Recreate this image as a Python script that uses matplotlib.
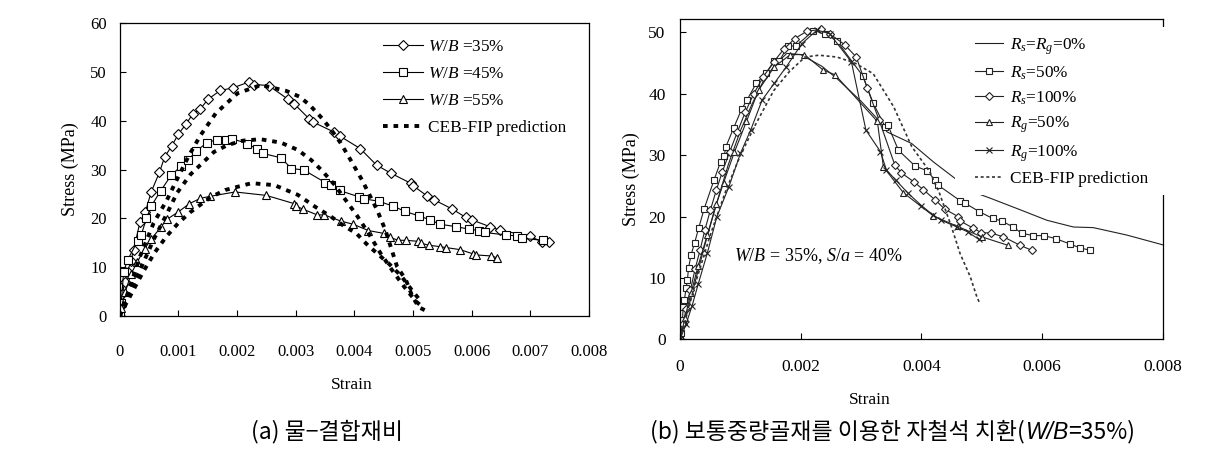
import numpy as np
import matplotlib
matplotlib.use('Agg')
import matplotlib.pyplot as plt
from matplotlib.patches import Rectangle

plt.rcParams['font.family'] = ['Liberation Serif', 'DejaVu Serif']
plt.rcParams['mathtext.fontset'] = 'custom'
plt.rcParams['mathtext.rm'] = 'Liberation Serif'
plt.rcParams['mathtext.it'] = 'Liberation Serif:italic'

# ---- (a) water-binder ratio : strain in 1e-3, stress in MPa ----
a35_x = [0, 0.02, 0.05, 0.09, 0.14, 0.19, 0.24, 0.35, 0.44, 0.54, 0.68, 0.77, 0.89, 1.0, 1.14,
         1.25, 1.37, 1.51, 1.72, 1.93, 2.2, 2.3, 2.54, 2.87, 2.98, 3.23, 3.3, 3.65, 3.76, 4.1,
         4.38, 4.63, 4.96, 5.0, 5.24, 5.36, 5.67, 5.9, 6.0, 6.31, 6.48, 7.0, 7.2, 7.32]
a35_y = [0, 2.0, 4.6, 7.0, 9.1, 11.2, 13.5, 19.3, 21.3, 25.4, 29.4, 32.6, 34.8, 37.2, 39.4,
         41.4, 42.3, 44.4, 46.2, 46.7, 47.9, 47.4, 47.2, 44.4, 43.4, 40.4, 39.7, 37.7, 36.8, 34.3,
         30.9, 29.2, 27.2, 26.7, 24.6, 23.8, 21.9, 20.2, 19.7, 18.3, 17.6, 16.3, 15.2, 15.1]
a45_x = [0, 0.03, 0.07, 0.14, 0.31, 0.37, 0.46, 0.54, 0.70, 0.88, 1.05, 1.17, 1.30, 1.49, 1.66,
         1.81, 1.92, 2.18, 2.35, 2.44, 2.75, 2.93, 3.14, 3.51, 3.6, 3.75, 4.08, 4.16, 4.42, 4.66,
         4.87, 5.1, 5.29, 5.46, 5.73, 5.95, 6.12, 6.22, 6.58, 6.77, 6.86, 7.22]
a45_y = [0, 2.6, 9.1, 11.5, 15.4, 16.6, 20.0, 22.5, 25.6, 28.8, 30.7, 31.9, 33.7, 35.5, 36.1,
         36.1, 36.3, 35.3, 34.1, 33.3, 32.4, 30.2, 29.9, 27.3, 26.8, 25.7, 24.4, 24.0, 23.5, 22.5,
         21.4, 20.5, 19.7, 18.8, 18.3, 17.8, 17.5, 17.1, 16.6, 16.4, 15.9, 15.5]
a55_x = [0, 0.03, 0.1, 0.2, 0.3, 0.43, 0.54, 0.71, 0.81, 1.0, 1.19, 1.38, 1.54, 1.97, 2.5, 2.98,
         3.0, 3.12, 3.37, 3.49, 3.78, 3.98, 4.24, 4.51, 4.61, 4.75, 4.88, 5.08, 5.14, 5.27, 5.46,
         5.57, 5.8, 6.03, 6.08, 6.33, 6.44]
a55_y = [0, 1.6, 5.0, 8.7, 11.0, 13.8, 15.7, 18.3, 19.8, 21.3, 23.0, 24.1, 24.5, 25.4, 24.7, 23.0,
         22.6, 21.9, 20.7, 20.7, 19.4, 18.8, 17.5, 16.9, 16.1, 15.5, 15.5, 15.3, 14.9, 14.5, 14.2,
         14.0, 13.6, 12.7, 12.5, 12.3, 11.9]
ceb35_x = [0, 0.18, 0.35, 0.58, 0.81, 0.98, 1.18, 1.38, 1.64, 2.01, 2.41, 2.84, 3.07, 3.24, 3.45,
           3.61, 3.77, 3.94, 4.13, 4.39, 4.53, 4.73, 4.88, 4.99, 5.1, 5.2]
ceb35_y = [0, 6.0, 12.2, 19.0, 23.8, 28.0, 32.8, 37.0, 41.5, 45.6, 47.3, 46.1, 44.9, 43.2, 40.5,
           38.1, 35.4, 31.9, 27.9, 21.7, 17.6, 10.1, 7.4, 4.0, 1.8, 1.2]
ceb45_x = [0, 0.13, 0.35, 0.58, 0.81, 0.98, 1.21, 1.61, 1.84, 2.1, 2.4, 2.75, 3.04, 3.27, 3.44,
           3.67, 3.85, 4.05, 4.25, 4.45, 4.65, 4.85, 5.05, 5.15]
ceb45_y = [0, 4.0, 9.4, 15.6, 21.0, 25.2, 29.0, 33.6, 35.0, 35.9, 36.2, 35.5, 34.0, 31.9, 29.9,
           26.8, 23.8, 20.5, 16.8, 12.8, 9.3, 6.0, 3.0, 2.0]
ceb55_x = [0, 0.2, 0.4, 0.6, 0.8, 1.0, 1.2, 1.55, 1.8, 2.25, 2.64, 3.04, 3.33, 3.61, 3.84, 4.03,
           4.23, 4.42, 4.6, 4.8, 5.0, 5.15]
ceb55_y = [0, 4.5, 9.0, 13.0, 16.3, 19.0, 21.2, 24.3, 25.8, 27.2, 26.8, 24.8, 22.4, 20.3, 18.3,
           17.0, 14.5, 12.5, 10.6, 8.2, 5.0, 2.8]

# ---- (b) magnetite replacement, W/B=35% ----
r0_x = [0, 0.2, 0.4, 0.6, 0.8, 1.0, 1.2, 1.4, 1.6, 1.77, 2.0, 2.35, 2.6, 3.0, 3.3, 3.43, 3.84,
        4.2, 4.56, 4.78, 5.14, 5.64, 6.08, 6.52, 6.85, 7.4, 8.0]
r0_y = [0, 7.5, 15.0, 22.0, 28.5, 34.0, 38.5, 42.5, 45.0, 46.6, 46.4, 44.5, 42.5, 38.8, 35.6, 33.8,
        31.9, 28.9, 26.2, 24.3, 23.0, 21.1, 19.4, 18.3, 18.2, 17.0, 15.4]
rs50_x = [0, 0.02, 0.04, 0.05, 0.07, 0.1, 0.12, 0.14, 0.18, 0.24, 0.31, 0.4, 0.56, 0.67, 0.73,
          0.76, 0.89, 1.02, 1.11, 1.26, 1.43, 1.56, 1.64, 1.79, 1.92, 2.21, 2.41, 2.6, 3.03, 3.2,
          3.4, 3.44, 3.62, 3.9, 4.09, 4.23, 4.28, 4.64, 4.72, 4.96, 5.18, 5.33, 5.52, 5.66, 5.85,
          6.03, 6.23, 6.47, 6.63, 6.8]
rs50_y = [0, 1.0, 3.1, 5.3, 6.4, 8.3, 9.6, 11.6, 13.7, 15.7, 18.2, 21.3, 25.9, 28.9, 29.9,
          31.4, 34.5, 37.5, 39.0, 41.7, 43.4, 45.3, 45.3, 47.8, 47.8, 50.3, 49.8, 48.6, 42.9, 38.5,
          34.6, 35.0, 30.8, 28.2, 27.5, 25.9, 25.1, 22.6, 22.2, 20.8, 19.7, 19.3, 18.3, 17.3, 16.9,
          16.9, 16.4, 15.5, 14.9, 14.5]
rs100_x = [0, 0.05, 0.1, 0.17, 0.25, 0.33, 0.41, 0.5, 0.6, 0.7, 0.82, 0.95, 1.08, 1.22, 1.38,
           1.55, 1.72, 1.9, 2.1, 2.33, 2.48, 2.73, 2.92, 3.1, 3.3, 3.56, 3.67, 3.87, 4.03, 4.23,
           4.39, 4.61, 4.64, 4.86, 4.99, 5.16, 5.36, 5.64, 5.83]
rs100_y = [0, 2.5, 5.0, 8.0, 11.5, 14.5, 17.8, 21.0, 24.3, 27.3, 30.5, 33.8, 37.0, 40.0, 42.8,
           45.2, 47.3, 49.0, 50.2, 50.5, 49.8, 48.0, 46.0, 41.0, 35.7, 28.4, 27.1, 25.7, 24.4, 22.7,
           21.2, 20.0, 19.3, 18.1, 17.4, 17.3, 16.7, 15.3, 14.5]
rg50_x = [0, 0.08, 0.18, 0.3, 0.45, 0.6, 0.72, 0.9, 1.1, 1.3, 1.56, 1.83, 2.06, 2.37, 2.57, 3.27,
          3.37, 3.7, 4.2, 4.6, 5.0, 5.44]
rg50_y = [0, 3.5, 7.5, 12.0, 17.0, 22.0, 25.5, 30.5, 35.5, 40.6, 44.4, 46.4, 46.4, 43.9, 43.1, 35.5,
          28.1, 23.9, 20.1, 18.4, 16.7, 15.3]
rg100_x = [0, 0.1, 0.2, 0.3, 0.45, 0.61, 0.81, 1.0, 1.17, 1.36, 1.56, 1.76, 2.02, 2.27, 2.48,
           2.84, 3.08, 3.32, 3.42, 3.58, 3.78, 4.0, 4.2, 4.33, 4.59, 4.77, 4.95]
rg100_y = [0, 2.5, 5.5, 9.0, 14.0, 20.0, 24.9, 30.3, 34.1, 39.0, 41.7, 44.4, 48.2, 50.4, 49.8,
           45.2, 34.1, 30.6, 27.6, 25.9, 23.8, 21.8, 20.2, 19.4, 18.3, 17.5, 16.3]
cebb_x = [0, 0.25, 0.5, 0.75, 1.0, 1.25, 1.55, 1.8, 2.07, 2.3, 2.6, 2.9, 3.2, 3.54, 3.84, 4.14,
          4.3, 4.5, 4.64, 4.81, 4.92, 4.97]
cebb_y = [0, 9.0, 17.0, 24.0, 30.0, 35.0, 40.5, 43.5, 46.0, 46.3, 46.0, 45.0, 43.3, 37.9, 31.4,
          27.3, 23.8, 18.3, 14.0, 10.2, 6.9, 5.8]

a_xticks = [0, 0.001, 0.002, 0.003, 0.004, 0.005, 0.006, 0.007, 0.008]
a_xlabels = ['0', '0.001', '0.002', '0.003', '0.004', '0.005', '0.006', '0.007', '0.008']
a_yticks = [0, 10, 20, 30, 40, 50, 60]
b_xticks = [0, 0.002, 0.004, 0.006, 0.008]
b_xlabels = ['0', '0.002', '0.004', '0.006', '0.008']
b_yticks = [0, 10, 20, 30, 40, 50]

def s(v):
    return np.array(v) * 1e-3

W, H = 1232, 457
fig = plt.figure(figsize=(W / 100, H / 100), dpi=100)

# ---------------- left panel ----------------
ax1 = fig.add_axes([119.5 / W, 1 - 316 / H, 469.5 / W, 293 / H])
mk = dict(mfc='white', mec='black', mew=0.8, color='black', lw=0.8)
ax1.plot(s(a35_x), a35_y, marker='D', ms=5, label=r'$W/B$ =35%', **mk)
ax1.plot(s(a45_x), a45_y, marker='s', ms=6, label=r'$W/B$ =45%', **mk)
ax1.plot(s(a55_x), a55_y, marker='^', ms=6, label=r'$W/B$ =55%', **mk)
ceb = dict(color='black', lw=2.8, dashes=(1.2, 1.5))
ax1.plot(s(ceb35_x), ceb35_y, label='CEB-FIP prediction', **ceb)
ax1.plot(s(ceb45_x), ceb45_y, **ceb)
ax1.plot(s(ceb55_x), ceb55_y, **ceb)
ax1.set_xlim(0, 0.008)
ax1.set_ylim(0, 60)
ax1.set_xticks(a_xticks)
ax1.set_xticklabels(a_xlabels)
ax1.set_yticks(a_yticks)
ax1.tick_params(axis='both', direction='in', length=4, width=0.8, labelsize=12)
ax1.tick_params(axis='x', pad=20)
ax1.tick_params(axis='y', pad=9)
ax1.set_xlabel('Strain', fontsize=12.5)
ax1.set_ylabel('Stress (MPa)', fontsize=13)
ax1.xaxis.set_label_coords(0.495, -0.208)
ax1.yaxis.set_label_coords(-0.087, 0.5)
for sp in ax1.spines.values():
    sp.set_linewidth(0.9)
ax1.legend(loc='upper left', bbox_to_anchor=(383 / W, 1 - 39 / H), bbox_transform=fig.transFigure,
           frameon=False, fontsize=12.4, handlelength=2.3, handletextpad=0.3, labelspacing=0.64,
           borderpad=0, borderaxespad=0)

# ---------------- right panel ----------------
ax2 = fig.add_axes([680.1 / W, 1 - 339.3 / H, 482.6 / W, 320.3 / H])
mk2 = dict(mfc='white', mec='#222222', mew=0.8, color='#222222', lw=0.8)
ax2.plot(s(r0_x), r0_y, label=r'$R_s$=$R_g$=0%', **mk2)
ax2.plot(s(rs50_x), rs50_y, marker='s', ms=5, label=r'$R_s$=50%', **mk2)
ax2.plot(s(rs100_x), rs100_y, marker='D', ms=4, label=r'$R_s$=100%', **mk2)
ax2.plot(s(rg50_x), rg50_y, marker='^', ms=5, label=r'$R_g$=50%', **mk2)
ax2.plot(s(rg100_x), rg100_y, marker='x', ms=5, label=r'$R_g$=100%', **mk2)
ax2.plot(s(cebb_x), cebb_y, color='#333333', lw=1.2, dashes=(1.8, 1.6), label='CEB-FIP prediction')
ax2.set_xlim(0, 0.008)
ax2.set_ylim(0, 52.2)
ax2.set_xticks(b_xticks)
ax2.set_xticklabels(b_xlabels)
ax2.set_yticks(b_yticks)
ax2.tick_params(axis='both', direction='in', length=4, width=0.8, labelsize=12.5)
ax2.tick_params(axis='x', pad=14)
ax2.tick_params(axis='y', pad=10.5)
ax2.set_xlabel('Strain', fontsize=12.5)
ax2.set_ylabel('Stress (MPa)', fontsize=13)
ax2.xaxis.set_label_coords(0.394, -0.165)
ax2.yaxis.set_label_coords(-0.083, 0.5)
for sp in ax2.spines.values():
    sp.set_linewidth(0.9)
ax2.text(0.00229, 13.6, r'$W/B$ = 35%, $S/a$ = 40%', fontsize=13, ha='center', va='center')
# white block behind the legend (hides part of the frame, as in the source)
ax2.add_patch(Rectangle((955 / W, 1 - 195 / H), 215 / W, 168 / H, transform=fig.transFigure,
                        facecolor='white', edgecolor='none', zorder=4, clip_on=False))
ax2.legend(loc='upper left', bbox_to_anchor=(975 / W, 1 - 36 / H), bbox_transform=fig.transFigure,
           frameon=False, fontsize=12.4, handlelength=1.65, handletextpad=0.4, labelspacing=0.45,
           borderpad=0, borderaxespad=0)

# ---------------- captions ----------------
cap = dict(fontsize=16.5, family=['Noto Sans CJK KR', 'DejaVu Sans'], va='center')
fig.text(251 / W, 1 - 432 / H, '(a) 물−결합재비', ha='left', **cap)
t1 = fig.text(650 / W, 1 - 432 / H, '(b) 보통중량골재를 이용한 자철석 치환(', ha='left', **cap)
t2 = ax2.annotate('W/B', xy=(1, 0), xycoords=t1, ha='left', va='bottom', fontsize=16.5,
                  family='Liberation Sans', style='italic', annotation_clip=False)
ax2.annotate('=35%)', xy=(1, 0), xycoords=t2, ha='left', va='bottom', fontsize=16.5,
             family=['Noto Sans CJK KR', 'DejaVu Sans'], annotation_clip=False)

fig.savefig('out.png', dpi=100)
